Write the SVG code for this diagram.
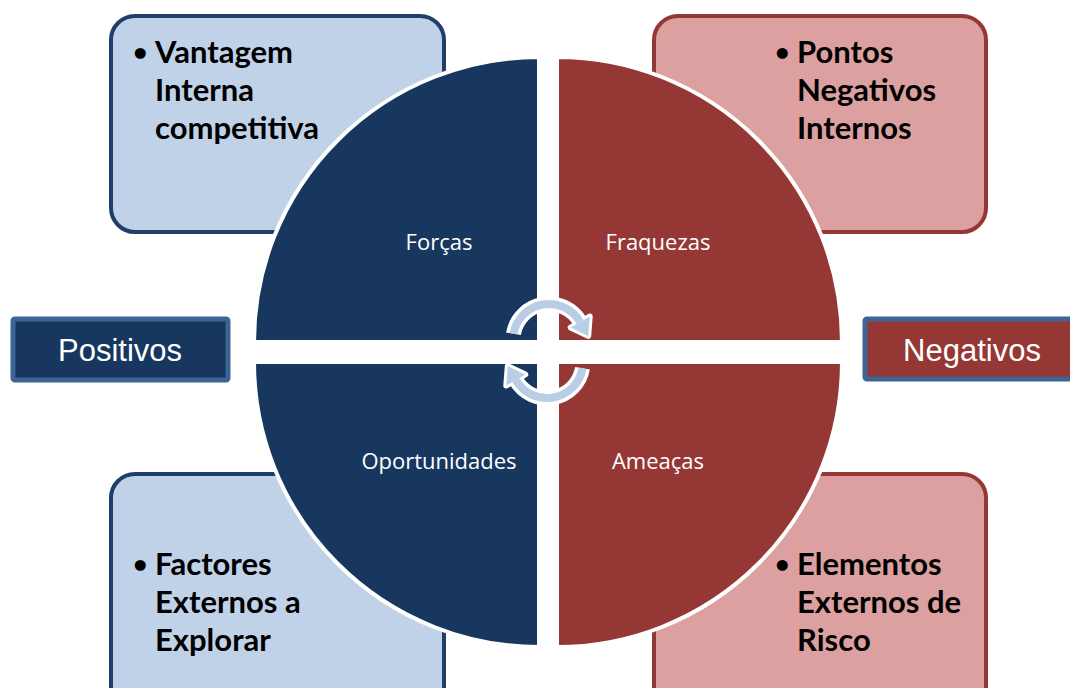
<svg xmlns="http://www.w3.org/2000/svg" width="1070" height="688" viewBox="0 0 1070 688">
<style>
.boxb{fill:#C0D2E8;stroke:#1F3F6A;stroke-width:4}
.boxr{fill:#DBA09F;stroke:#953735;stroke-width:4}
.bt{font-family:Lato,"Liberation Sans",sans-serif;font-weight:bold;font-size:31px;fill:#000}
.bu{font-family:Lato,"Liberation Sans",sans-serif;font-weight:bold;font-size:25px;fill:#000}
.qn{fill:#17375E;stroke:#fff;stroke-width:4}
.qr{fill:#953735;stroke:#fff;stroke-width:4}
.ql{font-family:"Open Sans","Liberation Sans",sans-serif;font-size:22px;fill:#fff;text-anchor:middle}
.side{stroke:#3C6494;stroke-width:5}
.st{font-family:"Liberation Sans",Arial,sans-serif;font-size:31px;fill:#fff;text-anchor:middle}
.aw{fill:none;stroke:#fff;stroke-width:15}
.ab{fill:none;stroke:#B9CDE5;stroke-width:8}
.hw{fill:#fff;stroke:#fff;stroke-width:6;stroke-linejoin:round}
.hb{fill:#B9CDE5}
</style>
<g id="box-forcas">
<rect class="boxb" x="111" y="16" width="333" height="216" rx="24"/>
<text class="bu" x="133" y="61">•</text>
<text class="bt"><tspan x="155" y="63">Vantagem</tspan><tspan x="155" y="101">Interna</tspan><tspan x="155" y="139">competitiva</tspan></text>
</g>
<g id="box-fraquezas">
<rect class="boxr" x="654" y="16" width="332" height="216" rx="24"/>
<text class="bu" x="775" y="61">•</text>
<text class="bt"><tspan x="797" y="63">Pontos</tspan><tspan x="797" y="101">Negativos</tspan><tspan x="797" y="139">Internos</tspan></text>
</g>
<g id="box-oportunidades">
<rect class="boxb" x="111" y="474" width="333" height="240" rx="24"/>
<text class="bu" x="133" y="573">•</text>
<text class="bt"><tspan x="155" y="575">Factores</tspan><tspan x="155" y="613">Externos a</tspan><tspan x="155" y="651">Explorar</tspan></text>
</g>
<g id="box-ameacas">
<rect class="boxr" x="654" y="474" width="332" height="240" rx="24"/>
<text class="bu" x="775" y="573">•</text>
<text class="bt"><tspan x="797" y="575">Elementos</tspan><tspan x="797" y="613">Externos de</tspan><tspan x="797" y="651">Risco</tspan></text>
</g>
<g id="q-forcas">
<path class="qn" d="M539,342 H254 A285,285 0 0 1 539,57 Z"/>
<text class="ql" x="439" y="250">Forças</text>
</g>
<g id="q-fraquezas">
<path class="qr" d="M557,342 V57 A285,285 0 0 1 842,342 Z"/>
<text class="ql" x="658" y="250">Fraquezas</text>
</g>
<g id="q-oportunidades">
<path class="qn" d="M539,362 H254 A285,285 0 0 0 539,647 Z"/>
<text class="ql" x="439" y="469">Oportunidades</text>
</g>
<g id="q-ameacas">
<path class="qr" d="M557,362 H842 A285,285 0 0 1 557,647 Z"/>
<text class="ql" x="658" y="469">Ameaças</text>
</g>
<g id="positivos">
<rect class="side" x="13" y="319" width="215" height="61" fill="#17375E" rx="2"/>
<text class="st" x="120" y="361">Positivos</text>
</g>
<g id="negativos">
<rect class="side" x="865" y="319" width="220" height="60" fill="#953735" rx="2"/>
<text class="st" x="972" y="361">Negativos</text>
</g>
<g id="connectors">
<g id="cycle-top">
<path class="aw" d="M513.5,333.8 A36,36 0 0 1 580.2,322"/>
<polygon class="hw" points="589.7,316.5 570.7,327.5 588.2,335.9"/>
<path class="ab" d="M513.5,333.8 A36,36 0 0 1 580.2,322"/>
<polygon class="hb" points="589.7,316.5 570.7,327.5 588.2,335.9"/>
</g>
<g id="cycle-bottom" transform="rotate(180 548 351)">
<path class="aw" d="M513.5,333.8 A36,36 0 0 1 580.2,322"/>
<polygon class="hw" points="589.7,316.5 570.7,327.5 588.2,335.9"/>
<path class="ab" d="M513.5,333.8 A36,36 0 0 1 580.2,322"/>
<polygon class="hb" points="589.7,316.5 570.7,327.5 588.2,335.9"/>
</g>
</g>
</svg>
